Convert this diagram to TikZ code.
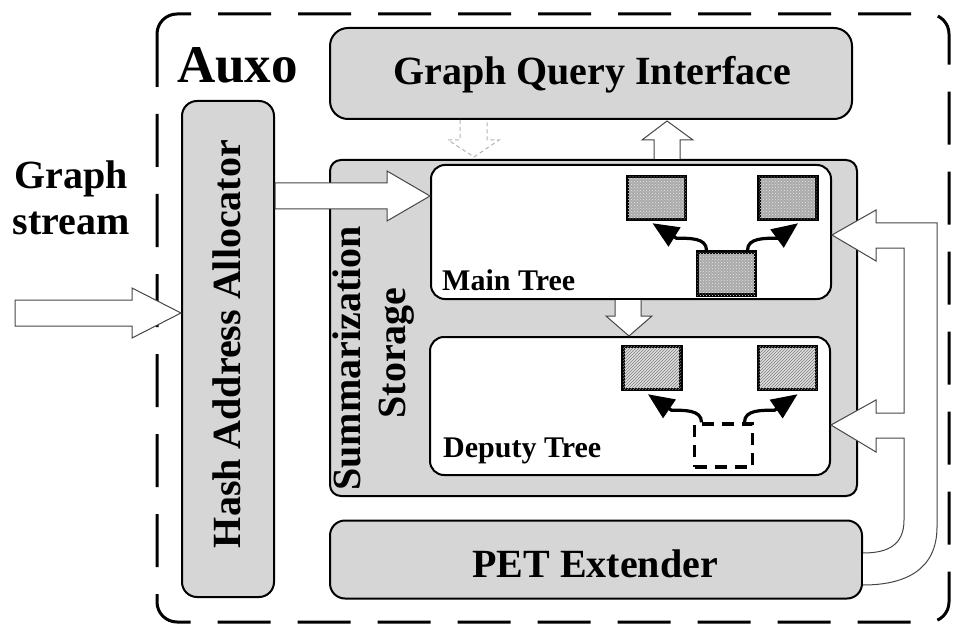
\documentclass[tikz,border=0pt]{standalone}
\usepackage{fontspec}
\setmainfont{Liberation Serif}
\usetikzlibrary{arrows.meta,patterns}
\definecolor{boxgray}{RGB}{214,214,214}
\definecolor{dotgray}{RGB}{170,170,170}
\definecolor{hatchgray}{RGB}{222,222,222}
\definecolor{linegray}{RGB}{70,70,70}
\begin{document}
\begin{tikzpicture}[x=1pt,y=-1pt,
  box/.style={draw=black, line width=2pt, fill=boxgray, rounded corners=15pt, inner sep=0pt},
  treebox/.style={draw=black, line width=2pt, fill=white, rounded corners=14pt, inner sep=0pt},
  dotsq/.style={draw=black, line width=3.5pt, fill=dotgray, minimum width=58pt, minimum height=43pt, inner sep=0pt,
     postaction={pattern=crosshatch dots, pattern color=white!80!gray}},
  hatchsq/.style={draw=black, line width=3.5pt, fill=hatchgray, minimum width=58pt, minimum height=43pt, inner sep=0pt,
     postaction={pattern=north east lines, pattern color=gray}},
  dashsq/.style={draw=black, line width=3.5pt, fill=white, dash pattern=on 12pt off 8pt, minimum width=58pt, minimum height=43pt, inner sep=0pt},
  blockarrow/.style={draw=linegray, line width=1pt, fill=white, line join=miter},
  treearrow/.style={draw=black, line width=3.2pt, -{Triangle[length=26pt,width=22pt]}},
  lbl/.style={font=\bfseries\fontsize{40}{47}\selectfont, inner sep=0pt},
  smalllbl/.style={font=\bfseries\fontsize{30}{34}\selectfont, inner sep=0pt},
  outer/.style={draw=black, line width=3pt, dash pattern=on 53pt off 27pt, rounded corners=20pt}
]
\useasboundingbox (0,0) rectangle (969,639);

% outer dashed frame
\draw[outer] (157,14) rectangle (949,622);
\node[font=\bfseries\fontsize{53}{60}\selectfont, inner sep=0pt, anchor=base west] (auxo) at (177,83) {Auxo};

% main boxes
\node[box, rounded corners=18pt, minimum width=522pt, minimum height=91pt] (gqi) at (591,73.5) {};
\node[box, minimum width=92pt, minimum height=496pt] (haa) at (228,349) {};
\node[box, rounded corners=11pt, minimum width=527pt, minimum height=336pt] (ss) at (593.5,328) {};
\node[box, minimum width=532pt, minimum height=78pt] (pet) at (596,559.5) {};

\node[treebox, minimum width=400pt, minimum height=134pt] (main) at (631,232) {};
\node[treebox, minimum width=400pt, minimum height=138pt] (deputy) at (630,406) {};

% labels
\node[lbl, anchor=base] (gqitext) at (592,85) {Graph Query Interface};
\node[lbl, anchor=base, rotate=90] (haatext) at (240,344) {Hash Address Allocator};
\node[lbl, anchor=base, rotate=90] (sstext1) at (360,358.5) {Summarization};
\node[lbl, anchor=base, rotate=90] (sstext2) at (405,353) {Storage};
\node[lbl, anchor=base] (pettext) at (595,577) {PET Extender};
\node[smalllbl, anchor=base west] (maintext) at (442,290) {Main Tree};
\node[smalllbl, anchor=base west] (deptext) at (443,457) {Deputy Tree};
\node[lbl, anchor=base, align=center] (gs) at (71,235) {Graph\\stream};

% tree squares
\node[dotsq] (m1) at (656.5,198) {};
\node[dotsq] (m2) at (788,198) {};
\node[dotsq] (m3) at (726.5,273.5) {};
\node[hatchsq] (d1) at (652,368) {};
\node[hatchsq] (d2) at (787.5,368) {};
\node[dashsq] (d3) at (723.5,445.5) {};

% tree arrows
\draw[treearrow] ([xshift=-20pt]m3.north) to[out=90,in=0] ++(-30,-12) -- ([xshift=-4pt,yshift=-2pt]m1.south);
\draw[treearrow] ([xshift=21pt]m3.north) to[out=90,in=180] ++(30,-12) -- ([xshift=10pt,yshift=-2pt]m2.south);
\draw[treearrow] ([xshift=-22pt]d3.north) to[out=90,in=0] ++(-30,-12) -- ([xshift=-4pt,yshift=-3pt]d1.south);
\draw[treearrow] ([xshift=21pt]d3.north) to[out=90,in=180] ++(30,-12) -- ([xshift=10pt,yshift=-3pt]d2.south);

% block arrows
\coordinate (gsTip) at (haa.west |- 0,313);
\draw[blockarrow] (15,300) -- (132,300) -- (132,288) -- (gsTip) -- (132,338) -- (132,326) -- (15,326) -- cycle;

\coordinate (inTip) at (main.west |- 0,196);
\draw[blockarrow] (haa.east |- 0,183) -- (387,183) -- (387,171) -- (inTip) -- (387,221) -- (387,209) -- (haa.east |- 0,209) -- cycle;

\draw[draw=gray!60, line width=1pt, dashed, dash pattern=on 4pt off 3pt]
  (460,120) -- (460,140) -- (448,140) -- (474,157) -- (499,140) -- (487,140) -- (487,120);

\draw[blockarrow] (654,159) -- (654,140) -- (642,140) -- (667,121) -- (693,140) -- (680,140) -- (680,159);

\draw[blockarrow] (615,300) -- (615,316) -- (606,316) -- (629,336) -- (652,316) -- (641,316) -- (641,300);

\draw[blockarrow] (pet.east |- 0,585) .. controls (905,585) and (937,570) .. (937,527) -- (937,223) -- (876,223) -- (876,210)
  -- (main.east |- 0,235) -- (876,261) -- (876,248) -- (904,248) -- (904,413) -- (876,413) -- (876,400)
  -- (deputy.east |- 0,425) -- (876,452) -- (876,438) -- (904,438) -- (904,520) .. controls (904,545) and (888,553) .. (pet.east |- 0,553);
\end{tikzpicture}
\end{document}
